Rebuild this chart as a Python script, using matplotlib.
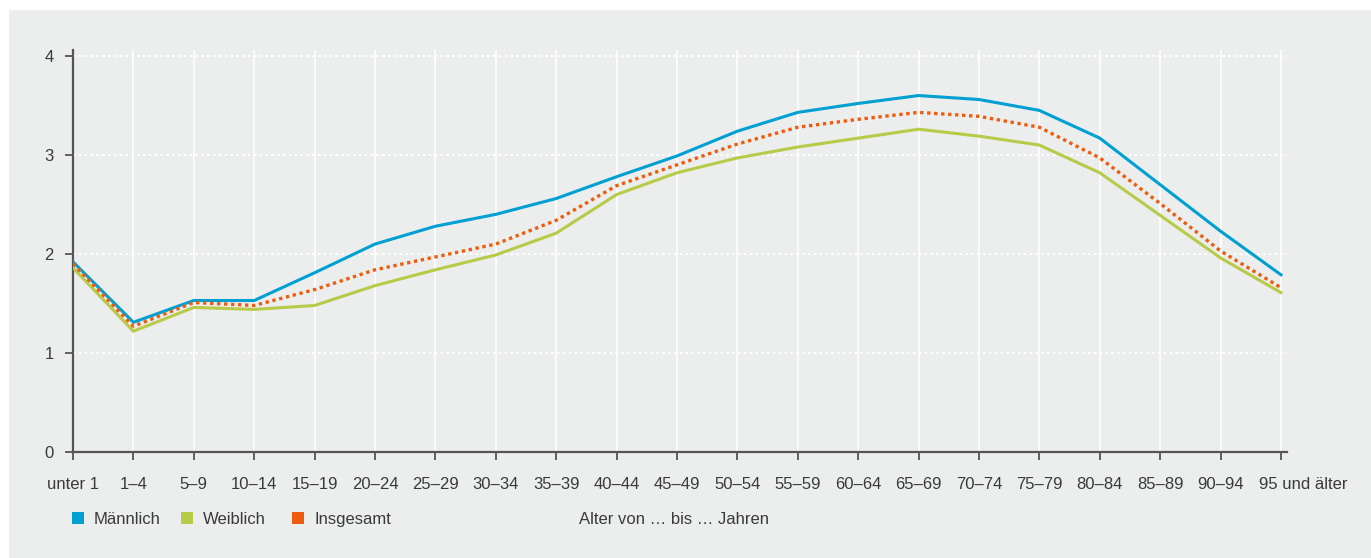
import matplotlib.pyplot as plt
import matplotlib.transforms as mtransforms
from matplotlib.patches import Rectangle
import numpy as np

# Altersgruppen
labels = ['unter 1', '1–4', '5–9', '10–14', '15–19', '20–24', '25–29', '30–34',
          '35–39', '40–44', '45–49', '50–54', '55–59', '60–64', '65–69',
          '70–74', '75–79', '80–84', '85–89', '90–94', '95 und älter']
maennlich = [1.92, 1.31, 1.53, 1.53, 1.81, 2.10, 2.28, 2.40, 2.56, 2.78, 2.99,
             3.24, 3.43, 3.52, 3.60, 3.56, 3.45, 3.17, 2.70, 2.23, 1.79]
weiblich = [1.86, 1.22, 1.46, 1.44, 1.48, 1.68, 1.84, 1.99, 2.21, 2.60, 2.82,
            2.97, 3.08, 3.17, 3.26, 3.19, 3.10, 2.82, 2.39, 1.96, 1.61]
insgesamt = [1.90, 1.27, 1.51, 1.48, 1.64, 1.84, 1.97, 2.10, 2.34, 2.69, 2.90,
             3.11, 3.28, 3.36, 3.43, 3.39, 3.28, 2.97, 2.51, 2.03, 1.66]
yticks = [0, 1, 2, 3, 4]

c_blue = '#00a0d2'
c_green = '#b7cb48'
c_orange = '#ef5b0c'
c_bg = '#eceded'
c_text = '#3a3a3a'
c_axis = '#555555'

plt.rcParams['font.family'] = ['Liberation Sans', 'DejaVu Sans']
plt.rcParams['font.size'] = 12

fig = plt.figure(figsize=(13.71, 5.58), dpi=100)
fig.patch.set_facecolor('white')
# grauer Hintergrund
fig.patches.append(Rectangle((9 / 1371, 0), 1 - 9 / 1371, 1 - 10 / 558,
                             transform=fig.transFigure, facecolor=c_bg,
                             edgecolor='none', zorder=-5))

ax = fig.add_axes([73 / 1371, 1 - 452 / 558, 1214 / 1371, 402 / 558])
ax.set_facecolor('none')
ax.set_zorder(2)

x = np.arange(len(labels))

# Gitter
for xi in x:
    ax.axvline(xi, color='white', lw=1.2, zorder=1)
for yv in yticks[1:]:
    ax.axhline(yv, color='white', lw=1.5, linestyle=(0, (1.2, 1.6)), zorder=1)

ax.plot(x, maennlich, color=c_blue, lw=2.2, zorder=3, solid_joinstyle='miter')
ax.plot(x, weiblich, color=c_green, lw=2.2, zorder=3, solid_joinstyle='miter')
ax.plot(x, insgesamt, color=c_orange, lw=2.4, linestyle=(0, (1, 1.1)), zorder=4)

ax.set_xlim(0, 20.1)
ax.set_ylim(0, 4.06)
ax.set_xticks(x)
ax.set_xticklabels(labels)
ax.set_yticks(yticks)

for s in ['top', 'right']:
    ax.spines[s].set_visible(False)
for s in ['left', 'bottom']:
    ax.spines[s].set_color(c_axis)
    ax.spines[s].set_linewidth(1.6)
ax.tick_params(axis='both', colors=c_axis, labelcolor=c_text, width=1.3,
               length=6, labelsize=12)
ax.tick_params(axis='x', pad=12)
ax.tick_params(axis='y', pad=8)

# letzte Beschriftung: "95" unter dem Tick, Rest nach rechts
last = ax.get_xticklabels()[-1]
last.set_ha('left')
last.set_transform(last.get_transform() +
                   mtransforms.ScaledTranslation(-22 / 100, 0, fig.dpi_scale_trans))

# Legende
legend_items = [('Männlich', c_blue, 72), ('Weiblich', c_green, 181),
                ('Insgesamt', c_orange, 292)]
for name, col, px in legend_items:
    fig.patches.append(Rectangle((px / 1371, 1 - 524 / 558), 12 / 1371, 12 / 558,
                                 transform=fig.transFigure, facecolor=col,
                                 edgecolor='none'))
    fig.text((px + 22) / 1371, 1 - 524 / 558, name, fontsize=12, color=c_text,
             va='baseline', ha='left')
fig.text(579 / 1371, 1 - 524 / 558, 'Alter von … bis … Jahren', fontsize=12,
         color=c_text, va='baseline', ha='left')

fig.savefig('out.png', dpi=100)
